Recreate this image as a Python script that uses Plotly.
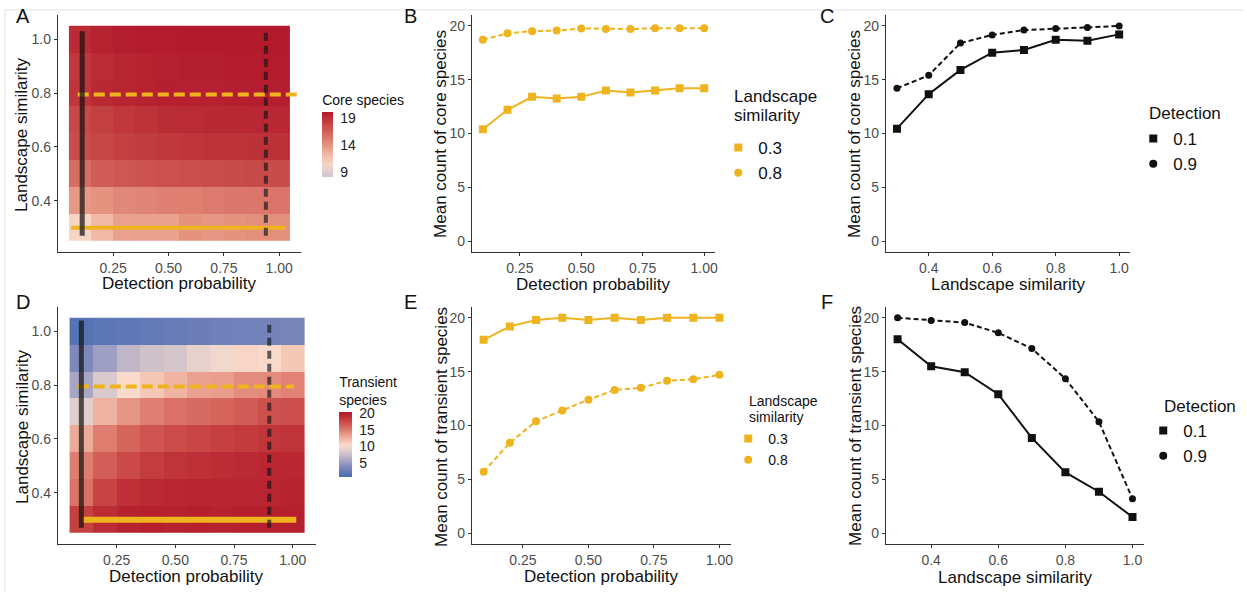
import plotly.graph_objects as go

W, H = 1247, 592
FONT = "Liberation Sans, Arial, sans-serif"
YELLOW = "#efb320"
BLACK = "#111111"

# ---------------- data ----------------
detection = [0.1, 0.2, 0.3, 0.4, 0.5, 0.6, 0.7, 0.8, 0.9, 1.0]
similarity = [0.3, 0.4, 0.5, 0.6, 0.7, 0.8, 0.9, 1.0]

# Panel A: core species heatmap (rows = similarity 0.3..1.0, cols = detection 0.1..1.0)
core_grid = [
    [10.4, 12.2, 13.4, 13.3, 13.4, 14.0, 13.8, 14.0, 14.2, 14.2],
    [13.7, 14.0, 14.5, 14.7, 14.9, 15.0, 15.2, 15.3, 15.4, 15.5],
    [15.9, 16.7, 17.0, 17.2, 17.3, 17.4, 17.5, 17.6, 17.7, 17.6],
    [17.5, 17.9, 18.2, 18.4, 18.6, 18.7, 18.8, 18.8, 18.9, 18.9],
    [17.8, 18.2, 18.6, 18.8, 19.1, 19.2, 19.3, 19.3, 19.4, 19.4],
    [18.7, 19.3, 19.5, 19.6, 19.75, 19.7, 19.7, 19.8, 19.8, 19.8],
    [18.6, 19.2, 19.5, 19.6, 19.7, 19.8, 19.8, 19.9, 19.9, 19.9],
    [19.2, 19.6, 19.8, 19.9, 19.9, 20.0, 20.0, 20.0, 20.0, 20.0],
]
# Panel D: transient species heatmap
transient_grid = [
    [18.0, 19.2, 19.8, 20.0, 19.8, 20.0, 19.8, 20.0, 20.0, 20.0],
    [15.5, 17.8, 19.0, 19.3, 19.5, 19.6, 19.6, 19.7, 19.7, 19.8],
    [14.9, 16.5, 17.5, 18.2, 18.7, 19.0, 19.2, 19.3, 19.5, 19.5],
    [12.9, 15.0, 16.2, 16.9, 17.4, 17.7, 18.0, 18.3, 18.6, 18.7],
    [8.8, 12.5, 13.8, 14.8, 15.5, 15.9, 16.2, 16.6, 17.2, 17.3],
    [5.7, 8.4, 10.4, 11.4, 12.4, 13.3, 13.5, 14.2, 14.3, 14.7],
    [3.9, 5.3, 7.0, 7.8, 8.2, 9.2, 10.0, 10.6, 10.4, 11.4],
    [1.5, 1.9, 2.1, 2.3, 2.5, 2.8, 3.0, 3.1, 3.2, 3.5],
]
heat_core_range = [8.1, 20.1]
heat_trans_range = [0.8, 20.4]

# reference lines drawn over the heatmaps (value, start, end)
A_hlines = {"0.3": (0.30, 0.06, 1.03), "0.8": (0.795, 0.09, 1.08)}
A_vlines = {"0.1": (0.11, 0.27, 1.03), "0.9": (0.94, 0.27, 1.03)}
D_hlines = {"0.3": (0.30, 0.106, 1.015), "0.8": (0.795, 0.085, 1.006)}
D_vlines = {"0.1": (0.10, 0.27, 1.04), "0.9": (0.90, 0.27, 1.04)}

# Panel B: core vs detection
core_det_s03 = [10.4, 12.2, 13.4, 13.25, 13.4, 14.0, 13.8, 14.0, 14.2, 14.2]
core_det_s08 = [18.7, 19.3, 19.5, 19.55, 19.75, 19.7, 19.7, 19.78, 19.78, 19.78]
# Panel E: transient vs detection
trans_det_s03 = [17.95, 19.2, 19.8, 20.0, 19.8, 20.0, 19.8, 20.0, 20.0, 20.0]
trans_det_s08 = [5.7, 8.4, 10.4, 11.4, 12.4, 13.3, 13.5, 14.15, 14.3, 14.7]
# Panel C: core vs similarity
core_sim_d01 = [10.45, 13.65, 15.9, 17.5, 17.75, 18.7, 18.6, 19.2]
core_sim_d09 = [14.2, 15.4, 18.4, 19.15, 19.6, 19.75, 19.85, 19.98]
# Panel F: transient vs similarity
trans_sim_d01 = [18.0, 15.5, 14.95, 12.9, 8.85, 5.65, 3.85, 1.5]
trans_sim_d09 = [20.0, 19.75, 19.55, 18.6, 17.15, 14.35, 10.35, 3.2]

CORE_COLORS = [(8.1, "#d3c5cd"), (9.0, "#dfcccd"), (10.4, "#f6d5c5"), (12.2, "#f1b9a6"),
               (14.0, "#e5937f"), (16.0, "#d66a61"), (18.0, "#c54443"), (20.1, "#b2182b")]
TRANS_COLORS = [(0.8, "#4a6db3"), (3.9, "#7f88bb"), (5.7, "#a8a5c5"), (8.8, "#e0cecd"),
                (10.4, "#f8dacb"), (12.9, "#eeaa98"), (14.9, "#df7e70"), (18.0, "#c6403f"),
                (20.4, "#b2182b")]


def make_scale(anchors):
    v0, v1 = anchors[0][0], anchors[-1][0]
    return [[(v - v0) / (v1 - v0), c] for v, c in anchors]


def fx(px):
    return px / W


def fy(py):
    return 1 - py / H


fig = go.Figure()

# ---------------- heatmaps ----------------
fig.add_trace(go.Heatmap(
    x=detection, y=similarity, z=core_grid, xaxis="x", yaxis="y",
    colorscale=make_scale(CORE_COLORS), zmin=heat_core_range[0], zmax=heat_core_range[1],
    colorbar=dict(x=fx(323), xanchor="left", y=fy(91), yanchor="top",
                  len=86, lenmode="pixels", thickness=11, xpad=0, ypad=0,
                  outlinewidth=0, tickvals=[9, 14, 19], ticks="outside", ticklen=5,
                  tickcolor="rgba(0,0,0,0)",
                  tickfont=dict(size=14, color="#222", family=FONT),
                  title=dict(text="Core species", side="top", font=dict(size=14, color="#111", family=FONT))),
    showscale=True, hoverinfo="skip"))

fig.add_trace(go.Heatmap(
    x=detection, y=similarity, z=transient_grid, xaxis="x4", yaxis="y4",
    colorscale=make_scale(TRANS_COLORS), zmin=heat_trans_range[0], zmax=heat_trans_range[1],
    colorbar=dict(x=fx(340), xanchor="left", y=fy(373), yanchor="top",
                  len=104, lenmode="pixels", thickness=13, xpad=0, ypad=0,
                  outlinewidth=0, tickvals=[5, 10, 15, 20], ticks="outside", ticklen=5,
                  tickcolor="rgba(0,0,0,0)",
                  tickfont=dict(size=14, color="#222", family=FONT),
                  title=dict(text="Transient<br>species", side="top", font=dict(size=14, color="#111", family=FONT))),
    showscale=True, hoverinfo="skip"))


def overlay(hlines, vlines, xa, ya, hwidth_solid, vdash):
    h3, h8 = hlines["0.3"], hlines["0.8"]
    fig.add_trace(go.Scatter(x=[h3[1], h3[2]], y=[h3[0], h3[0]], mode="lines", xaxis=xa, yaxis=ya,
                             line=dict(color=YELLOW, width=hwidth_solid), showlegend=False, hoverinfo="skip"))
    fig.add_trace(go.Scatter(x=[h8[1], h8[2]], y=[h8[0], h8[0]], mode="lines", xaxis=xa, yaxis=ya,
                             line=dict(color=YELLOW, width=4, dash="11px,5px"), showlegend=False, hoverinfo="skip"))
    v1, v9 = vlines["0.1"], vlines["0.9"]
    fig.add_trace(go.Scatter(x=[v1[0], v1[0]], y=[v1[1], v1[2]], mode="lines", xaxis=xa, yaxis=ya,
                             line=dict(color="rgba(20,20,20,0.72)", width=5), showlegend=False, hoverinfo="skip"))
    fig.add_trace(go.Scatter(x=[v9[0], v9[0]], y=[v9[1], v9[2]], mode="lines", xaxis=xa, yaxis=ya,
                             line=dict(color="rgba(20,20,20,0.65)", width=4, dash=vdash), showlegend=False, hoverinfo="skip"))


overlay(A_hlines, A_vlines, "x", "y", 4, "8px,5px")
overlay(D_hlines, D_vlines, "x4", "y4", 6, "8px,5px")

# ---------------- line panels ----------------
def line_pair(x, ys_solid, ys_dash, color, xa, ya, legend, names, msize=(8, 8)):
    fig.add_trace(go.Scatter(x=x, y=ys_solid, mode="lines+markers", xaxis=xa, yaxis=ya,
                             line=dict(color=color, width=2),
                             marker=dict(symbol="square", size=msize[0], color=color),
                             showlegend=False, hoverinfo="skip"))
    fig.add_trace(go.Scatter(x=x, y=ys_dash, mode="lines+markers", xaxis=xa, yaxis=ya,
                             line=dict(color=color, width=2, dash="5px,3px"),
                             marker=dict(symbol="circle", size=msize[1], color=color),
                             showlegend=False, hoverinfo="skip"))
    # legend keys (points only, like ggplot shape legend)
    fig.add_trace(go.Scatter(x=[None], y=[None], mode="markers", xaxis=xa, yaxis=ya, name=names[0],
                             marker=dict(symbol="square", size=8, color=color), legend=legend))
    fig.add_trace(go.Scatter(x=[None], y=[None], mode="markers", xaxis=xa, yaxis=ya, name=names[1],
                             marker=dict(symbol="circle", size=8, color=color), legend=legend))


line_pair(detection, core_det_s03, core_det_s08, YELLOW, "x2", "y2", "legend", ["0.3", "0.8"])
line_pair(similarity, core_sim_d01, core_sim_d09, BLACK, "x3", "y3", "legend2", ["0.1", "0.9"], (8, 7))
line_pair(detection, trans_det_s03, trans_det_s08, YELLOW, "x5", "y5", "legend3", ["0.3", "0.8"])
line_pair(similarity, trans_sim_d01, trans_sim_d09, BLACK, "x6", "y6", "legend4", ["0.1", "0.9"], (8, 7))

# ---------------- axes ----------------
def ax(domain, rng, tickvals, fmt, anchor, col="#4d4d4d", lcol="#333333"):
    return dict(domain=domain, range=rng, autorange=False, tickvals=tickvals, tickformat=fmt, anchor=anchor,
                showline=True, linecolor=lcol, linewidth=1, ticks="outside", ticklen=3,
                tickcolor=lcol, tickfont=dict(size=14, color=col, family=FONT),
                showgrid=False, zeroline=False, fixedrange=True)


top_y = [fy(252), fy(15)]
bot_y = [fy(544), fy(307)]
heat_x_ticks = [0.25, 0.5, 0.75, 1.0]
heat_y_ticks = [0.4, 0.6, 0.8, 1.0]
count_ticks = [0, 5, 10, 15, 20]
sim_ticks = [0.4, 0.6, 0.8, 1.0]

layout_axes = dict(
    xaxis=ax([fx(58), fx(302)], [0.0, 1.1], heat_x_ticks, ".2f", "y"),
    yaxis=ax(top_y, [0.21, 1.09], heat_y_ticks, ".1f", "x"),
    xaxis2=ax([fx(473), fx(717)], [0.055, 1.045], heat_x_ticks, ".2f", "y2"),
    yaxis2=ax(top_y, [-1, 21], count_ticks, "d", "x2"),
    xaxis3=ax([fx(888), fx(1133)], [0.265, 1.035], sim_ticks, ".1f", "y3"),
    yaxis3=ax(top_y, [-1, 21], count_ticks, "d", "x3"),
    xaxis4=ax([fx(58), fx(317)], [0.0, 1.1], heat_x_ticks, ".2f", "y4"),
    yaxis4=ax(bot_y, [0.21, 1.09], heat_y_ticks, ".1f", "x4"),
    xaxis5=ax([fx(473), fx(733)], [0.055, 1.045], heat_x_ticks, ".2f", "y5"),
    yaxis5=ax(bot_y, [-1, 21], count_ticks, "d", "x5"),
    xaxis6=ax([fx(888), fx(1147)], [0.265, 1.035], sim_ticks, ".1f", "y6"),
    yaxis6=ax(bot_y, [-1, 21], count_ticks, "d", "x6"),
)


def leg(px, py, fs):
    return dict(x=fx(px), y=fy(py), xanchor="left", yanchor="top", bgcolor="rgba(0,0,0,0)",
                font=dict(size=fs, color="#111", family=FONT), itemwidth=30, tracegroupgap=0)


annotations = []


def txt(s, px, py, size, angle=0, color="#111", anchor="center"):
    annotations.append(dict(text=s, x=fx(px), y=fy(py), xref="paper", yref="paper", showarrow=False,
                            xanchor=anchor, yanchor="middle", textangle=angle,
                            font=dict(size=size, color=color, family=FONT)))


# panel letters
for letter, px, py in [("A", 23, 16), ("B", 411, 16), ("C", 829, 16),
                       ("D", 23, 302), ("E", 411, 302), ("F", 829, 302)]:
    txt(letter, px, py, 20)

# axis titles
txt("Detection probability", 180, 283, 17)
txt("Detection probability", 595, 284, 17)
txt("Landscape similarity", 1011, 284, 17)
txt("Detection probability", 187, 576, 17)
txt("Detection probability", 603, 576, 17)
txt("Landscape similarity", 1018, 577, 17)
txt("Landscape similarity", 22, 134, 17, -90)
txt("Mean count of core species", 442, 134, 17, -90)
txt("Mean count of core species", 857, 134, 17, -90)
txt("Landscape similarity", 22, 426, 17, -90)
txt("Mean count of transient species", 442, 427, 17, -90)
txt("Mean count of transient species", 857, 426, 17, -90)

# legend titles
txt("Landscape", 734, 97, 17, anchor="left")
txt("similarity", 734, 115, 17, anchor="left")
txt("Detection", 1150, 114, 17, anchor="left")
txt("Landscape", 749, 401, 14, anchor="left")
txt("similarity", 749, 417, 14, anchor="left")
txt("Detection", 1165, 406, 17, anchor="left")

shapes = [
    dict(type="line", xref="paper", yref="paper", x0=fx(5), x1=1, y0=fy(10), y1=fy(10),
         line=dict(color="#e3e3e3", width=1)),
    dict(type="line", xref="paper", yref="paper", x0=fx(5), x1=fx(5), y0=fy(10), y1=0,
         line=dict(color="#e3e3e3", width=1)),
]

fig.update_layout(
    width=W, height=H, margin=dict(l=0, r=0, t=0, b=0),
    paper_bgcolor="white", plot_bgcolor="white",
    font=dict(family=FONT, color="#111"),
    legend=leg(720, 130, 17),
    legend2=leg(1136, 121, 17),
    legend3=leg(730, 423, 14),
    legend4=leg(1146, 413, 17),
    annotations=annotations, shapes=shapes,
    **layout_axes,
)

fig.write_html("out.html")
